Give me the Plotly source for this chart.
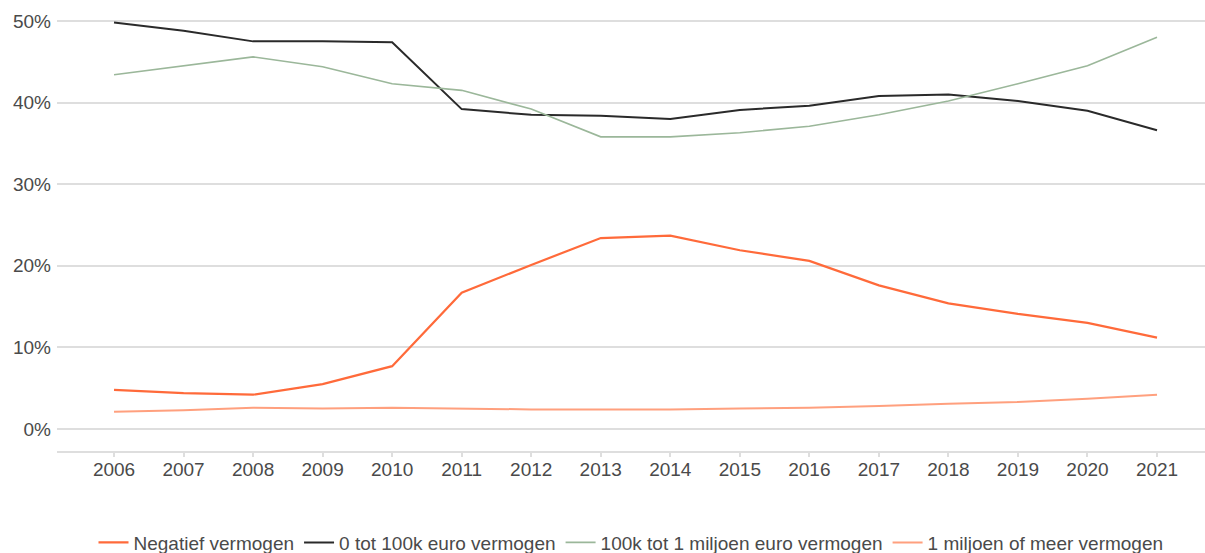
import plotly.graph_objects as go

years = list(range(2006, 2022))

negatief = [4.8, 4.4, 4.2, 5.5, 7.7, 16.7, 20.1, 23.4, 23.7, 21.9, 20.6, 17.6, 15.4, 14.1, 13.0, 11.2]
tot_100k = [49.8, 48.8, 47.5, 47.5, 47.4, 39.2, 38.5, 38.4, 38.0, 39.1, 39.6, 40.8, 41.0, 40.2, 39.0, 36.6]
tot_1mln = [43.4, 44.5, 45.6, 44.4, 42.3, 41.5, 39.2, 35.8, 35.8, 36.3, 37.1, 38.5, 40.2, 42.3, 44.5, 48.0]
miljoen_plus = [2.1, 2.3, 2.6, 2.5, 2.6, 2.5, 2.4, 2.4, 2.4, 2.5, 2.6, 2.8, 3.1, 3.3, 3.7, 4.2]

series = [
    ("Negatief vermogen", negatief, "#ff6a3a", 2.2),
    ("0 tot 100k euro vermogen", tot_100k, "#2a2a2a", 2.0),
    ("100k tot 1 miljoen euro vermogen", tot_1mln, "#9bb79a", 1.6),
    ("1 miljoen of meer vermogen", miljoen_plus, "#ffa07e", 2.0),
]

y_ticks = [0, 10, 20, 30, 40, 50]
y_tick_text = ["0%", "10%", "20%", "30%", "40%", "50%"]

fig = go.Figure()
for name, vals, color, w in series:
    fig.add_trace(go.Scatter(x=years, y=vals, mode="lines", name=name,
                             line=dict(color=color, width=w)))

fig.update_layout(
    width=1205, height=553,
    margin=dict(l=57, r=0, t=0, b=102, autoexpand=False),
    paper_bgcolor="white", plot_bgcolor="white",
    font=dict(family="Liberation Sans, Arial, sans-serif", size=19, color="#4a4a4a"),
    showlegend=True,
    legend=dict(orientation="h", x=0.5, xanchor="center", y=-0.203, yanchor="middle",
                font=dict(size=19, color="#4a4a4a"), itemwidth=30, tracegroupgap=0),
    xaxis=dict(range=[2005.18, 2021.69], tickvals=years, ticktext=[str(y) for y in years],
               showgrid=False, showline=True, linecolor="#dedede", linewidth=2,
               ticks="outside", ticklen=4, tickcolor="#dedede", tickwidth=1.5,
               ticklabelstandoff=-4, automargin=False,
               zeroline=False, tickfont=dict(size=19, color="#4a4a4a")),
    yaxis=dict(range=[-2.7, 52.57], tickvals=y_ticks, ticktext=y_tick_text,
               showgrid=True, gridcolor="#dedede", gridwidth=1.8,
               zeroline=False, showline=False, ticks="",
               ticklabelstandoff=5, automargin=False,
               tickfont=dict(size=19, color="#4a4a4a")),
)

fig.write_html("out.html", config={"displayModeBar": False},
               post_script="document.body.style.margin='0';document.body.style.overflow='hidden';")
